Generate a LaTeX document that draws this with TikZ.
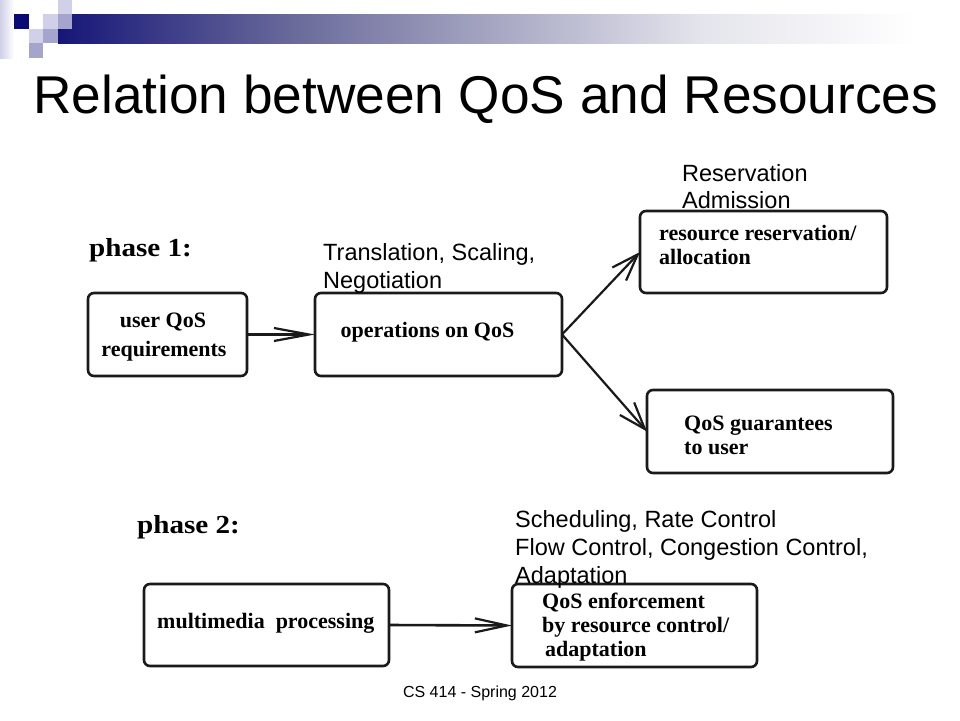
\documentclass[tikz,border=0pt]{standalone}
\usepackage{fontspec}
\usepackage{graphicx}
\usetikzlibrary{arrows.meta}
\newfontfamily\arialf{Liberation Sans}
\newfontfamily\tnrf{Liberation Serif}
\definecolor{navyb}{HTML}{161678}
\definecolor{navysq}{HTML}{0A0A76}
\definecolor{midb}{HTML}{6C6C9C}
\definecolor{lightb}{HTML}{E4E4EC}
\definecolor{lavA}{HTML}{D0D0E8}
\definecolor{lavB}{HTML}{A4A4CC}
\definecolor{boxline}{HTML}{1A1A1A}
\pgfdeclarehorizontalshading{barshade}{100bp}{color(0bp)=(navyb); color(25bp)=(navyb); color(38.4bp)=(midb); color(60.6bp)=(lightb); color(72.5bp)=(white); color(100bp)=(white)}
\tikzset{
  qbox/.style={draw=boxline, line width=2.6pt, rounded corners=6pt, inner sep=0pt, outer sep=0pt},
  boxtxt/.style={font=\tnrf\bfseries\fontsize{22}{26}\selectfont, inner sep=0pt},
  armtxt/.style={font=\arialf\fontsize{23.5}{28}\selectfont, inner sep=0pt, anchor=base west},
  phasetxt/.style={font=\tnrf\bfseries\fontsize{26}{30}\selectfont, inner sep=0pt, anchor=base west},
  conn/.style={draw=boxline, line width=2.2pt, -{Straight Barb[length=27pt, width=19pt, line width=2.2pt]}},
}
\begin{document}
\begin{tikzpicture}[x=1pt, y=-1pt]
\fill[white] (0,0) rectangle (960,720);
\useasboundingbox (0,0) rectangle (960,720);
% header decoration
\shade[left color=lavA, right color=white] (0,0) rectangle (14,58);
\shade[shading=barshade] (58,14) rectangle (960,43);
\fill[lavA] (58,0) rectangle (72,14);
\fill[navysq] (14,14) rectangle (29,29);
\fill[white] (29,14) rectangle (43,29);
\fill[lavA] (43,14) rectangle (58,29);
\fill[lavB] (58,14) rectangle (72,29);
\fill[lavA] (29,29) rectangle (43,43);
\fill[lavB] (43,29) rectangle (58,43);
\fill[lavB] (29,43) rectangle (43,58);
% title
\node[font=\arialf\fontsize{53.2}{60}\selectfont, inner sep=0pt, anchor=base west] (title) at (33,113) {Relation between QoS and Resources};
% phase labels
\node[phasetxt] (ph1) at (89,256) {\scalebox{1.12}[1]{phase 1:}};
\node[phasetxt] (ph2) at (137,533) {\scalebox{1.12}[1]{phase 2:}};
% boxes
\node[qbox, minimum width=159, minimum height=83] (b1) at (167.5,334.5) {};
\node[qbox, minimum width=247, minimum height=83] (b2) at (438.5,334.5) {};
\node[qbox, minimum width=247, minimum height=82] (b3) at (763.5,252) {};
\node[qbox, minimum width=246, minimum height=83] (b4) at (770,431.5) {};
\node[qbox, minimum width=245, minimum height=82] (b5) at (266.5,625) {};
\node[qbox, minimum width=245, minimum height=83] (b6) at (634.5,625.5) {};
% box texts
\node[boxtxt, anchor=base] (t1a) at (163,327) {user QoS};
\node[boxtxt, anchor=base] (t1b) at (164,356) {requirements};
\node[boxtxt, anchor=base] (t2) at (427.5,337) {operations on QoS};
\node[boxtxt, anchor=base west] (t3a) at (659,240) {resource reservation/};
\node[boxtxt, anchor=base west] (t3b) at (659,264) {allocation};
\node[boxtxt, anchor=base west] (t4a) at (684,430) {QoS guarantees};
\node[boxtxt, anchor=base west] (t4b) at (684,454) {to user};
\node[boxtxt, anchor=base west] (t5) at (157,628) {multimedia\ \ processing};
\node[boxtxt, anchor=base west] (t6a) at (542,608) {QoS enforcement};
\node[boxtxt, anchor=base west] (t6b) at (542,632) {by resource control/};
\node[boxtxt, anchor=base west] (t6c) at (545,656) {adaptation};
% arm labels
\node[armtxt] (l1a) at (323,260) {Translation, Scaling,};
\node[armtxt] (l1b) at (323,288) {Negotiation};
\node[armtxt] (l2a) at (682,181) {Reservation};
\node[armtxt] (l2b) at (682,208) {Admission};
\node[armtxt] (l3a) at (515,527) {Scheduling, Rate Control};
\node[armtxt] (l3b) at (515,555) {Flow Control, Congestion Control,};
\node[armtxt] (l3c) at (515,583) {Adaptation};
% connectors
\draw[draw=boxline, line width=3.4pt, -{Straight Barb[length=35pt, width=13pt, line width=2.2pt]}] (b1.east) -- (b2.west);
\draw[conn] (b2.east) -- (b3.west);
\draw[conn] (b2.east) -- (b4.west);
\draw[draw=boxline, line width=2.6pt, -{Straight Barb[length=32pt, width=14pt, line width=2.2pt]}] (b5.east) -- (b6.west);
% footer
\node[font=\arialf\fontsize{16}{19}\selectfont, inner sep=0pt, anchor=base] (foot) at (480,697) {CS 414 - Spring 2012};
\end{tikzpicture}
\end{document}
